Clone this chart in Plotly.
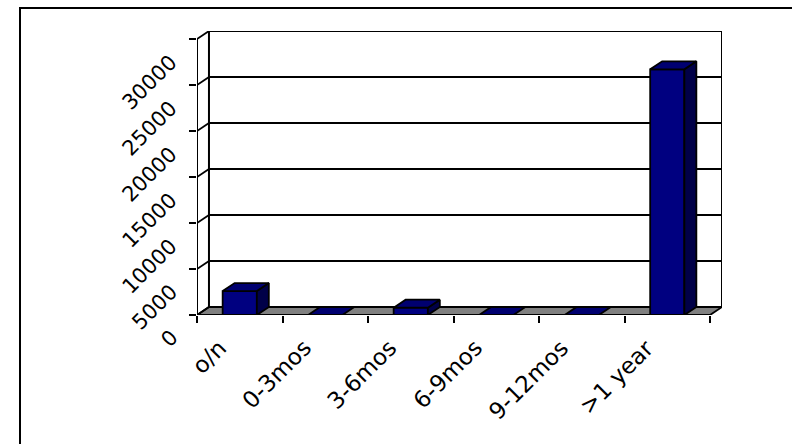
import plotly.graph_objects as go

# Maturity buckets and outstanding amounts
categories = ["o/n", "0-3mos", "3-6mos", "6-9mos", "9-12mos", ">1 year"]
values = [2600, 0, 800, 0, 0, 26700]
y_ticks = [0, 5000, 10000, 15000, 20000, 25000, 30000]

# Pseudo-3D geometry (depth offset in axis units)
BAR_W = 0.4
DX = 0.14
DY = 870
X_LO, X_HI = -0.5, len(categories) - 0.5
Y_TOP = y_ticks[-1]

FRONT = "#000080"
TOP = "#000070"
SIDE = "#000048"
EDGE = "black"
FONT = "Tahoma, Verdana, DejaVu Sans, sans-serif"

fig = go.Figure()

# Front faces of the columns
xs = list(range(len(categories)))
fig.add_trace(go.Bar(
    x=xs, y=values, width=BAR_W, base=0,
    marker=dict(color=FRONT, line=dict(color=EDGE, width=1.8)),
    hoverinfo="skip", showlegend=False,
))

# Side and top faces built from the same values
side_x, side_y, top_x, top_y = [], [], [], []
for i, v in zip(xs, values):
    r = i + BAR_W / 2
    l = i - BAR_W / 2
    if v > 0:
        side_x += [r, r + DX, r + DX, r, r, None]
        side_y += [0, DY, v + DY, v, 0, None]
    top_x += [l, r, r + DX, l + DX, l, None]
    top_y += [v, v, v + DY, v + DY, v, None]

fig.add_trace(go.Scatter(
    x=side_x, y=side_y, mode="lines", fill="toself", fillcolor=SIDE,
    line=dict(color=EDGE, width=1.8), hoverinfo="skip", showlegend=False,
))
fig.add_trace(go.Scatter(
    x=top_x, y=top_y, mode="lines", fill="toself", fillcolor=TOP,
    line=dict(color=EDGE, width=1.8), hoverinfo="skip", showlegend=False,
))

shapes = []
# Back wall
shapes.append(dict(type="rect", xref="x", yref="y", layer="below",
                   x0=X_LO + DX, x1=X_HI + DX, y0=DY, y1=Y_TOP + DY,
                   fillcolor="white", line=dict(color=EDGE, width=2)))
# Gridlines on the back wall
for t in y_ticks[1:-1]:
    shapes.append(dict(type="line", xref="x", yref="y", layer="below",
                       x0=X_LO + DX, x1=X_HI + DX, y0=t + DY, y1=t + DY,
                       line=dict(color=EDGE, width=1.8)))
# Floor
shapes.append(dict(type="path", xref="x", yref="y", layer="below",
                   path=f"M {X_LO},0 L {X_HI},0 L {X_HI + DX},{DY} L {X_LO + DX},{DY} Z",
                   fillcolor="#808080", line=dict(color=EDGE, width=1.8)))
# Side-wall connectors at each tick level
for t in y_ticks:
    shapes.append(dict(type="line", xref="x", yref="y", layer="below",
                       x0=X_LO, x1=X_LO + DX, y0=t, y1=t + DY,
                       line=dict(color=EDGE, width=1.8)))
# Front value axis
shapes.append(dict(type="line", xref="x", yref="y", layer="below",
                   x0=X_LO, x1=X_LO, y0=0, y1=Y_TOP,
                   line=dict(color=EDGE, width=2)))
# Outer chart frame
shapes.append(dict(type="rect", xref="paper", yref="paper",
                   x0=20 / 792, x1=1.05, y0=-0.05, y1=1 - 8 / 444,
                   line=dict(color=EDGE, width=2), fillcolor="rgba(0,0,0,0)"))

annotations = []
for t in y_ticks:
    annotations.append(dict(
        x=X_LO, y=t, xref="x", yref="y", text=f"{t}", showarrow=False,
        textangle=-45, xanchor="right", yanchor="top", xshift=-12, yshift=-8,
        font=dict(family=FONT, size=21, color="black"),
    ))
for i, c in zip(xs, categories):
    annotations.append(dict(
        x=i, y=0, xref="x", yref="y", text=c, showarrow=False,
        textangle=-45, xanchor="right", yanchor="top", xshift=-6, yshift=-17,
        font=dict(family=FONT, size=23, color="black"),
    ))

fig.update_layout(
    width=792, height=444,
    margin=dict(l=0, r=0, t=0, b=0),
    paper_bgcolor="white", plot_bgcolor="rgba(0,0,0,0)",
    shapes=shapes, annotations=annotations,
    showlegend=False,
    xaxis=dict(domain=[197 / 792, 722 / 792], range=[X_LO, X_HI + DX],
               tickvals=[k - 0.5 for k in range(len(categories) + 1)],
               ticks="outside", ticklen=7, tickwidth=2, tickcolor=EDGE,
               showticklabels=False, showgrid=False, zeroline=False,
               showline=False, fixedrange=True),
    yaxis=dict(domain=[(444 - 315) / 444, (444 - 31) / 444],
               range=[0, Y_TOP + DY], tickvals=y_ticks,
               ticks="outside", ticklen=7, tickwidth=2, tickcolor=EDGE,
               showticklabels=False, showgrid=False, zeroline=False,
               showline=False, fixedrange=True),
)

fig.write_html("out.html")
